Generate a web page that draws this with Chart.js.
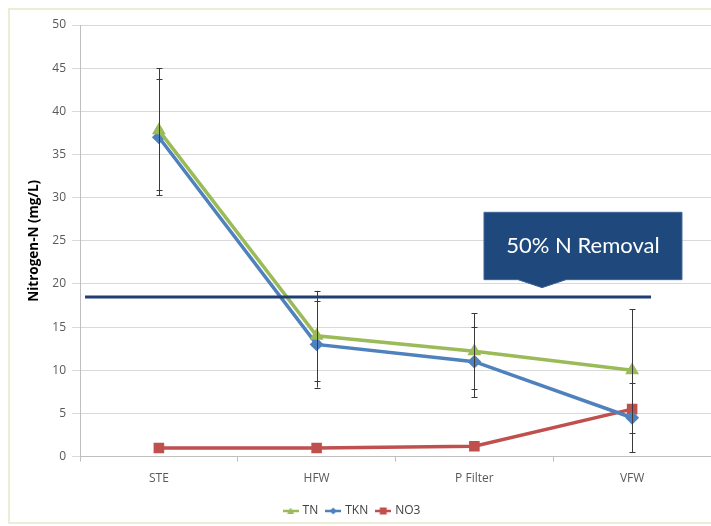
<!DOCTYPE html>
<html>
<head>
<meta charset="utf-8">
<script src="https://cdn.jsdelivr.net/npm/chart.js@4.4.0/dist/chart.umd.min.js"></script>
<style>
html,body{margin:0;padding:0;background:#fff;}
#wrap{width:711px;height:526px;position:relative;}
</style>
</head>
<body>
<div id="wrap"><canvas id="c" width="711" height="526"></canvas></div>
<script>
const categories = ["STE", "HFW", "P Filter", "VFW"];
const tnValues  = [37.8, 14.0, 12.2, 10.0];
const tknValues = [37.0, 13.0, 11.0, 4.5];
const no3Values = [1.0, 1.0, 1.2, 5.5];
const tnLow   = [30.3, 8.0, 6.9, 2.7];
const tnHigh  = [45.0, 19.2, 16.6, 17.1];
const tknLow  = [30.9, 8.8, 7.8, 0.5];
const tknHigh = [43.8, 18.0, 15.0, 8.5];
const removalLevel = 18.5;
const calloutText = "50% N Removal";
const yTicks = [0, 5, 10, 15, 20, 25, 30, 35, 40, 45, 50];

const colTN = "#9BBB59", colTKN = "#4F81BD", colNO3 = "#C0504D";
const tickFont = '"Open Sans", "Liberation Sans", sans-serif';

function legendIcon(color, style) {
  const cv = document.createElement('canvas');
  cv.width = 16; cv.height = 10;
  const x = cv.getContext('2d');
  x.strokeStyle = color; x.lineWidth = 2.5;
  x.beginPath(); x.moveTo(0, 5); x.lineTo(16, 5); x.stroke();
  x.fillStyle = color;
  if (style === 'tri') { x.beginPath(); x.moveTo(8, 1.5); x.lineTo(11.5, 8); x.lineTo(4.5, 8); x.closePath(); x.fill(); }
  else if (style === 'dia') { x.beginPath(); x.moveTo(8, 1.5); x.lineTo(11.5, 5); x.lineTo(8, 8.5); x.lineTo(4.5, 5); x.closePath(); x.fill(); }
  else { x.fillRect(4.5, 1.5, 7, 7); }
  return cv;
}
const icons = [legendIcon(colTN, 'tri'), legendIcon(colTKN, 'dia'), legendIcon(colNO3, 'sq')];

const errorBars = {
  id: 'errorBars',
  afterLayout(chart) {
    const lg = chart.legend;
    if (lg) { lg.left -= 8; lg.right -= 8; }
  },
  afterDatasetsDraw(chart) {
    const {ctx, scales: {x, y}} = chart;
    ctx.save();
    ctx.strokeStyle = '#3a3a3a';
    ctx.lineWidth = 1;
    const sets = [[tnLow, tnHigh], [tknLow, tknHigh]];
    sets.forEach(([lo, hi]) => {
      categories.forEach((c, i) => {
        const px = Math.round(x.getPixelForValue(i)) + 0.5;
        const y1 = y.getPixelForValue(lo[i]), y2 = y.getPixelForValue(hi[i]);
        ctx.beginPath();
        ctx.moveTo(px, y1); ctx.lineTo(px, y2);
        ctx.moveTo(px - 3, Math.round(y1) + 0.5); ctx.lineTo(px + 3, Math.round(y1) + 0.5);
        ctx.moveTo(px - 3, Math.round(y2) + 0.5); ctx.lineTo(px + 3, Math.round(y2) + 0.5);
        ctx.stroke();
      });
    });
    // removal line
    const ly = y.getPixelForValue(removalLevel);
    ctx.strokeStyle = '#1F3F73';
    ctx.lineWidth = 3;
    ctx.beginPath();
    ctx.moveTo(x.getPixelForValue(-0.468), ly);
    ctx.lineTo(x.getPixelForValue(3.12), ly);
    ctx.stroke();
    // callout
    const bx1 = x.getPixelForValue(2.061), bx2 = x.getPixelForValue(3.316);
    const by1 = y.getPixelForValue(28.3), by2 = y.getPixelForValue(20.5);
    const tipX = x.getPixelForValue(2.429);
    ctx.fillStyle = '#1F497D';
    ctx.strokeStyle = '#3d6598';
    ctx.lineWidth = 1;
    ctx.beginPath();
    ctx.moveTo(bx1, by1); ctx.lineTo(bx2, by1); ctx.lineTo(bx2, by2);
    ctx.lineTo(tipX + 24, by2); ctx.lineTo(tipX, by2 + 8); ctx.lineTo(tipX - 24, by2);
    ctx.lineTo(bx1, by2); ctx.closePath();
    ctx.fill(); ctx.stroke();
    ctx.fillStyle = '#ffffff';
    ctx.font = '22px Lato, "Open Sans", sans-serif';
    ctx.textAlign = 'center'; ctx.textBaseline = 'middle';
    ctx.fillText(calloutText, (bx1 + bx2) / 2, (by1 + by2) / 2);
    ctx.restore();
  },
  beforeDraw(chart) {
    const ctx = chart.ctx;
    ctx.save();
    ctx.fillStyle = '#fff';
    ctx.fillRect(0, 0, chart.width, chart.height);
    ctx.strokeStyle = '#ecedd6';
    ctx.lineWidth = 2;
    ctx.strokeRect(9, 9, chart.width + 10, chart.height - 12);
    ctx.restore();
  }
};

new Chart(document.getElementById('c'), {
  type: 'line',
  data: {
    labels: categories,
    datasets: [
      {label: 'TN', data: tnValues, borderColor: colTN, backgroundColor: colTN, borderWidth: 3.5, pointStyle: 'triangle', pointRadius: 4.5, tension: 0},
      {label: 'TKN', data: tknValues, borderColor: colTKN, backgroundColor: colTKN, borderWidth: 3.5, pointStyle: 'rectRot', pointRadius: 4.5, tension: 0},
      {label: 'NO3', data: no3Values, borderColor: colNO3, backgroundColor: colNO3, borderWidth: 3.5, pointStyle: 'rect', pointRadius: 5, tension: 0}
    ]
  },
  options: {
    responsive: false,
    animation: false,
    layout: {autoPadding: false, padding: {left: 10, right: 0, top: 25, bottom: -1}},
    plugins: {
      tooltip: {enabled: false},
      legend: {
        position: 'bottom',
        labels: {
          usePointStyle: true,
          boxWidth: 16,
          color: '#404040',
          font: {size: 12, family: tickFont},
          padding: 9,
          generateLabels(chart) {
            return chart.data.datasets.map((d, i) => ({
              text: d.label, pointStyle: icons[i], fillStyle: d.borderColor, strokeStyle: d.borderColor,
              lineWidth: 0, hidden: false, datasetIndex: i, fontColor: '#404040'
            }));
          }
        }
      }
    },
    scales: {
      x: {
        type: 'category',
        offset: true,
        grid: {offset: true, drawOnChartArea: false, drawTicks: true, tickLength: 5, color: '#bfbfbf'},
        border: {color: '#bfbfbf'},
        ticks: {color: '#595959', font: {size: 12, family: tickFont}, padding: 10},
        afterFit(scale) { scale.paddingLeft = 0; scale.paddingRight = 0; }
      },
      y: {
        min: 0, max: 50,
        afterBuildTicks(scale) { scale.ticks = yTicks.map(v => ({value: v})); },
        grid: {color: '#d9d9d9', tickLength: 8},
        border: {color: '#bfbfbf'},
        ticks: {color: '#595959', font: {size: 12, family: tickFont}, padding: 6},
        title: {display: true, text: 'Nitrogen-N (mg/L)', color: '#000', font: {size: 13.5, weight: 'bold', family: tickFont}, padding: {top: 16, bottom: 4}},
        afterFit(scale) { scale.width = 70; }
      }
    }
  },
  plugins: [errorBars]
});
</script>
</body>
</html>
